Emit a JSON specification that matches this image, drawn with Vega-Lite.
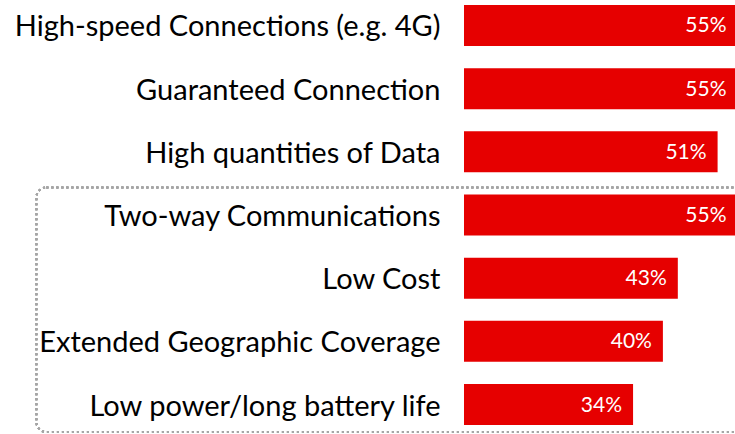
{
  "$schema": "https://vega.github.io/schema/vega-lite/v6.json",
  "width": 271,
  "height": 430,
  "autosize": {"type": "none"},
  "padding": {"left": 464, "top": 0, "right": 0, "bottom": 4},
  "background": "white",
  "config": {"view": {"stroke": null}, "font": "Lato"},
  "data": {"values": [
    {"item": "High-speed Connections (e.g. 4G)", "value": 0.55},
    {"item": "Guaranteed Connection", "value": 0.55},
    {"item": "High quantities of Data", "value": 0.51},
    {"item": "Two-way Communications", "value": 0.55},
    {"item": "Low Cost", "value": 0.43},
    {"item": "Extended Geographic Coverage", "value": 0.40},
    {"item": "Low power/long battery life", "value": 0.34}
  ]},
  "layer": [
    {
      "mark": {"type": "bar", "color": "#E60000", "clip": true},
      "encoding": {
        "y": {"field": "item", "type": "nominal",
          "scale": {"domain": ["High-speed Connections (e.g. 4G)", "Guaranteed Connection", "High quantities of Data", "Two-way Communications", "Low Cost", "Extended Geographic Coverage", "Low power/long battery life"], "paddingInner": 0.351, "paddingOuter": 0.079},
          "axis": {"title": null, "domain": false, "ticks": false, "labelPadding": 24, "labelFontSize": 29, "labelOffset": 2, "labelColor": "#000000", "labelLimit": 0, "labelFont": "Lato"}},
        "x": {"field": "value", "type": "quantitative", "scale": {"domain": [0, 0.545], "nice": false, "zero": false}, "axis": null}
      }
    },
    {
      "mark": {"type": "text", "align": "right", "baseline": "middle", "dx": -11, "dy": 1, "color": "white", "fontSize": 21, "font": "Lato"},
      "encoding": {
        "y": {"field": "item", "type": "nominal"},
        "x": {"field": "value", "type": "quantitative"},
        "text": {"field": "value", "type": "quantitative", "format": ".0%"}
      }
    },
    {
      "mark": {"type": "rect", "filled": false, "stroke": "#a6a6a6", "strokeWidth": 2, "strokeDash": [2, 3], "cornerRadius": 10, "yOffset": -7, "y2Offset": 7},
      "encoding": {
        "x": {"datum": -0.86, "type": "quantitative"},
        "x2": {"datum": 0.62},
        "y": {"datum": "Two-way Communications", "type": "nominal", "bandPosition": 0},
        "y2": {"datum": "Low power/long battery life", "bandPosition": 1}
      }
    }
  ]
}
